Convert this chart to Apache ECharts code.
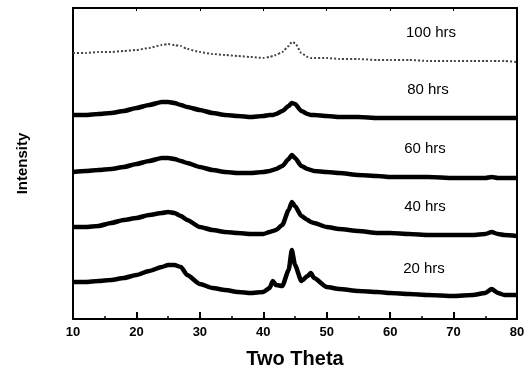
<!DOCTYPE html>
<html>
<head>
<meta charset="utf-8">
<script src="https://cdn.jsdelivr.net/npm/echarts@6/dist/echarts.min.js"></script>
<style>html,body{margin:0;padding:0;background:#fff}#c{width:524px;height:369px}</style>
</head>
<body>
<div id="c"></div>
<script>
const theta = [10,12,14,16,18,20,22,24,25,26,27,28,30,32,34,36,38,40,41,41.5,42,43,44,44.5,45,46,47,47.5,48,50,52,55,58,60,63,66,70,73,75,76,77,78,80];
const h20 = [37,37,38,39,41,44,48,52,54,54,52,44,35,31,29,27,26,27,31,38,34,33,49,69,54,38,43,46,41,32,30,28,27,26,25,24,23,24,26,30,26,24,24];
const h40 = [92,92,93,96,99,101,104,106,107,106,103,99,92,89,87,86,85,85,87,88,89,94,109,117,113,103,99,97,96,92,90,88,86,86,85,84,84,84,85,87,85,84,83];
const h60 = [147,148,149,150,152,155,158,161,161,160,158,156,152,149,147,146,146,147,148,149,150,153,160,164,161,153,150,149,148,147,146,144,143,142,142,142,141,141,141,142,141,141,141];
const h80 = [204,204,205,206,208,211,214,217,217,216,214,212,209,206,204,203,202,203,204,204,205,208,213,216,215,208,205,204,204,203,202,202,201,201,201,201,201,201,201,201,201,201,201];
const h100 = [266,266,267,267,268,269,271,274,275,274,273,270,267,265,264,263,262,261,262,263,264,267,273,277,276,266,262,261,261,261,260,260,259,259,259,258,258,258,258,258,258,258,257];
const seriesNames = ['20 hrs','40 hrs','60 hrs','80 hrs','100 hrs'];
const seriesData = [h20,h40,h60,h80,h100];
const xTicks = [10,20,30,40,50,60,70,80];

const chart = echarts.init(document.getElementById('c'), null, {renderer:'canvas'});
const font = '"Liberation Sans", Arial, sans-serif';
const labelPos = [[424,269],[425,207],[425,149],[428,90],[431,33]];

const series = seriesData.map((d,i)=>({
  name: seriesNames[i],
  type:'line',
  data: theta.map((t,j)=>[t,d[j]]),
  showSymbol:false,
  smooth:0.2,
  smoothMonotone:'x',
  animation:false,
  lineStyle: i===4 ? {color:'#444', width:2, type:[2,2]} : {color:'#000', width:4.5}
}));

chart.setOption({
  animation:false,
  grid:{left:73,right:7,top:8,bottom:50,outerBoundsMode:'none',containLabel:false},
  xAxis:[{
    type:'value', min:10, max:80, interval:10,
    axisLine:{show:true,onZero:false,lineStyle:{color:'#000',width:2}},
    axisTick:{show:true,inside:true,length:7,lineStyle:{color:'#000',width:2}},
    minorTick:{show:true,splitNumber:2,length:3,lineStyle:{color:'#000',width:1.5}},
    splitLine:{show:false},
    axisLabel:{color:'#000',fontFamily:font,fontWeight:'bold',fontSize:13,margin:7,
      formatter:v=>xTicks.includes(v)?String(v):''},
    name:'Two Theta', nameLocation:'middle', nameGap:30,
    nameTextStyle:{color:'#000',fontFamily:font,fontWeight:'bold',fontSize:20}
  },{
    type:'value', position:'top', min:10, max:80, interval:10,
    axisLine:{show:true,onZero:false,lineStyle:{color:'#000',width:2}},
    axisTick:{show:true,inside:true,length:3,lineStyle:{color:'#000',width:1}},
    axisLabel:{show:false}, splitLine:{show:false}
  }],
  yAxis:[{
    type:'value', min:0, max:311,
    axisLine:{show:true,onZero:false,lineStyle:{color:'#000',width:2}},
    axisTick:{show:false}, axisLabel:{show:false}, splitLine:{show:false},
    name:'Intensity', nameLocation:'middle', nameGap:43, nameRotate:90,
    nameTextStyle:{color:'#000',fontFamily:font,fontWeight:'bold',fontSize:15}
  },{
    type:'value', position:'right', min:0, max:311,
    axisLine:{show:true,onZero:false,lineStyle:{color:'#000',width:2}},
    axisTick:{show:false}, axisLabel:{show:false}, splitLine:{show:false}
  }],
  series: series,
  graphic: seriesNames.map((n,i)=>({
    type:'text', x:labelPos[i][0], y:labelPos[i][1],
    style:{text:n, fill:'#000', font:'15px '+font, textAlign:'center', textVerticalAlign:'middle'}
  }))
});
</script>
</body>
</html>
